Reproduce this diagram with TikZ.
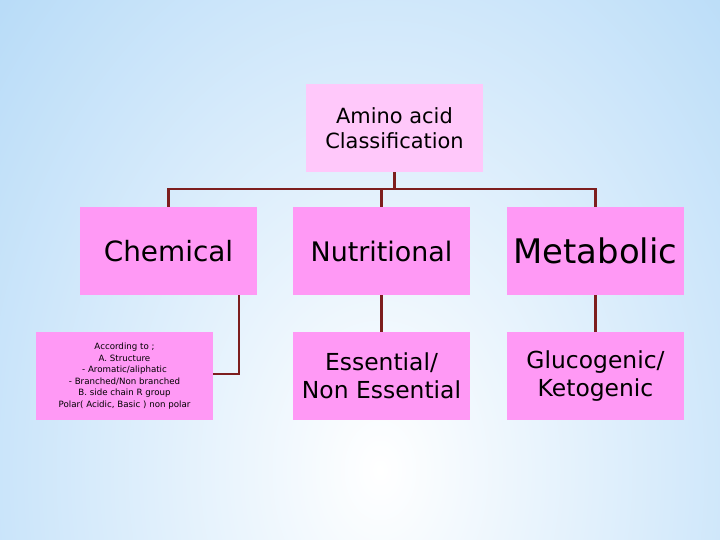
\documentclass[tikz,border=0pt]{standalone}
\usepackage{fontspec}
\setmainfont{DejaVu Sans}
\definecolor{bgblue}{RGB}{155,205,245}
\definecolor{boxpink}{RGB}{255,153,245}
\definecolor{toppink}{RGB}{255,200,250}
\definecolor{linkred}{RGB}{125,30,30}

\begin{document}
\begin{tikzpicture}[x=1bp,y=-1bp,
    box/.style={fill=boxpink,minimum width=177bp,minimum height=88bp,inner sep=0pt,align=center,text=black},
    link/.style={draw=linkred,line width=2.5bp}]
        \useasboundingbox(0,0)rectangle(720,540);
        \begin{scope}
            \clip(0,0)rectangle(720,540);
            \shade[inner color=white,outer color=bgblue](380,470)ellipse(720 and 1000);
        \end{scope}
        % top and first row
        \node[box,fill=toppink,font=\fontsize{21}{25}\selectfont](top)at(394.5,128){Amino acid\\Classification};
        \node[box,font=\fontsize{28}{32}\selectfont](chem)at(168.5,251){Chemical};
        \node[box,font=\fontsize{27}{30}\selectfont](nutr)at(381.5,251){Nutritional};
        \node[box,font=\fontsize{34}{38}\selectfont](meta)at(595.5,251){Metabolic};
        % second row
        \node[box,font=\fontsize{8.7}{11.6}\selectfont](chemdet)at(124.5,376){According to ;\\A. Structure\\- Aromatic/aliphatic\\- Branched/Non branched\\B. side chain R group\\Polar( Acidic, Basic ) non polar};
        \node[box,font=\fontsize{23.5}{28}\selectfont](ess)at(381.5,376){Essential/\\Non Essential};
        \node[box,font=\fontsize{23.5}{28}\selectfont](gluc)at(595.5,376){Glucogenic/\\Ketogenic};
        \coordinate(bus)at(394.5,189);
        \draw[link](top.south)--(bus);
        \draw[link](chem.north)|-(bus)-|(meta.north);
        \draw[link](nutr.north)--(nutr.north|-bus);
        \draw[link](nutr.south)--(ess.north);
        \draw[link](meta.south)--(gluc.north);
        \draw[link]([xshift=-18bp]chem.south east)|-([yshift=2bp]chemdet.east);

    \end{tikzpicture}
\end{document}
